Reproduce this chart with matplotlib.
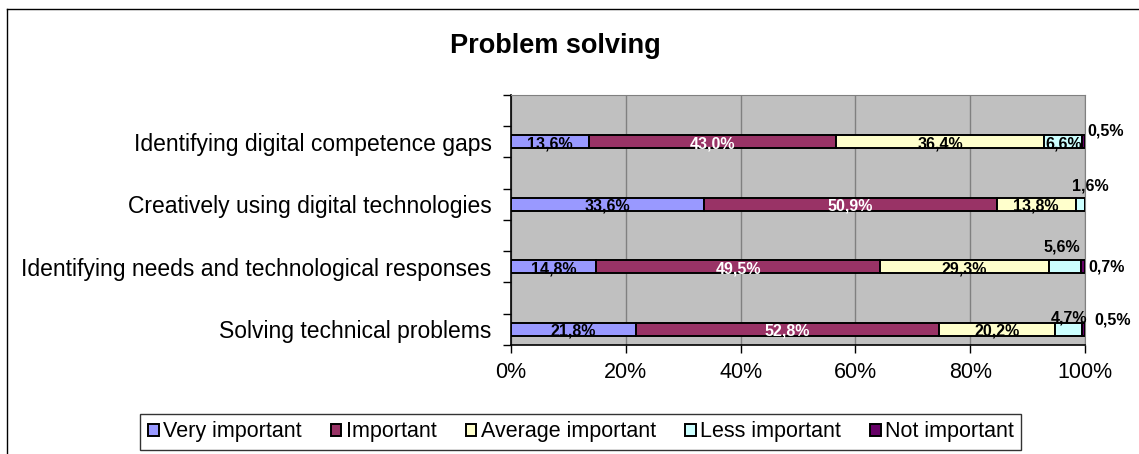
import numpy as np
import matplotlib
matplotlib.use('Agg')
import matplotlib.pyplot as plt
from matplotlib.lines import Line2D

plt.rcParams['font.family'] = ['Liberation Sans', 'DejaVu Sans']

categories = ['Identifying digital competence gaps',
              'Creatively using digital technologies',
              'Identifying needs and technological responses',
              'Solving technical problems']
series = ['Very important', 'Important', 'Average important',
          'Less important', 'Not important']
very_important = [13.6, 33.6, 14.8, 21.8]
important = [43.0, 50.9, 49.5, 52.8]
average_important = [36.4, 13.8, 29.3, 20.2]
less_important = [6.6, 1.6, 5.6, 4.7]
not_important = [0.5, 0.0, 0.7, 0.5]

colors = ['#9999FF', '#993366', '#FFFFCC', '#CCFFFF', '#660066']
text_colors = ['black', 'white', 'black', 'black', 'black']

# manual label offsets (points) for the tiny segments, like the moved Excel labels
label_offsets = {
    (0, 4): (16, 8),
    (1, 3): (7, 13),
    (2, 3): (-2, 14),
    (2, 4): (17, 0),
    (3, 3): (0, 8),
    (3, 4): (21, 7),
}

data = np.array([very_important, important, average_important,
                 less_important, not_important])
totals = data.sum(axis=0)
shares = data / totals * 100

fig = plt.figure(figsize=(11.39, 4.54), dpi=100)
ax = fig.add_axes([0.4486, 0.2401, 0.504, 0.5507])
ax.set_facecolor('#C0C0C0')

y_pos = np.array([1.5, 3.5, 5.5, 7.5])
left = np.zeros(len(categories))
for i, name in enumerate(series):
    ax.barh(y_pos, shares[i], left=left, height=0.42, color=colors[i],
            edgecolor='black', linewidth=1.4, label=name, zorder=3)
    for j in range(len(categories)):
        v = data[i, j]
        if v <= 0:
            continue
        cx = left[j] + shares[i, j] / 2
        dx, dy = label_offsets.get((j, i), (0, -1.5))
        ax.annotate(f'{v:.1f}%'.replace('.', ','), (cx, y_pos[j]),
                    xytext=(dx, dy), textcoords='offset points',
                    ha='center', va='center', fontsize=11.5, fontweight='bold',
                    color=text_colors[i] if (j, i) not in label_offsets else 'black',
                    zorder=5, annotation_clip=False)
    left += shares[i]

ax.set_xlim(0, 100)
ax.set_ylim(8, 0)
ax.set_xticks(np.arange(0, 101, 20))
ax.set_xticklabels([f'{t}%' for t in range(0, 101, 20)], fontsize=15.5)
ax.set_yticks(y_pos)
ax.set_yticklabels(categories, fontsize=16.5)
ax.set_yticks(np.arange(0, 9), minor=True)
ax.tick_params(axis='y', which='major', length=0, pad=14)
ax.tick_params(axis='y', which='minor', length=6, width=1, direction='out')
ax.tick_params(axis='x', which='major', length=6, width=1, direction='out', pad=6)
ax.grid(True, axis='x', color='#808080', linewidth=1, zorder=0)
ax.set_axisbelow(True)
for side in ['top', 'right']:
    ax.spines[side].set_color('#808080')
for side in ['left', 'bottom']:
    ax.spines[side].set_color('black')
    ax.spines[side].set_linewidth(1.2)

fig.text(0.488, 0.898, 'Problem solving', ha='center', va='center',
         fontsize=19.5, fontweight='bold')

leg = fig.legend(loc='center', bbox_to_anchor=(0.510, 0.0485), ncol=5,
                 fontsize=15.5, frameon=True, fancybox=False, shadow=False,
                 handlelength=0.5, handleheight=0.5, handletextpad=0.2,
                 columnspacing=1.35, borderpad=0.35, borderaxespad=0)
leg.get_frame().set_edgecolor('black')
leg.get_frame().set_linewidth(1)

# outer chart frame (left and top edges visible)
fig.add_artist(Line2D([7 / 1139, 7 / 1139], [0, 1 - 9 / 454],
                      transform=fig.transFigure, color='black', linewidth=1))
fig.add_artist(Line2D([7 / 1139, 1], [1 - 9 / 454, 1 - 9 / 454],
                      transform=fig.transFigure, color='black', linewidth=1))

fig.savefig('out.png', dpi=100)
